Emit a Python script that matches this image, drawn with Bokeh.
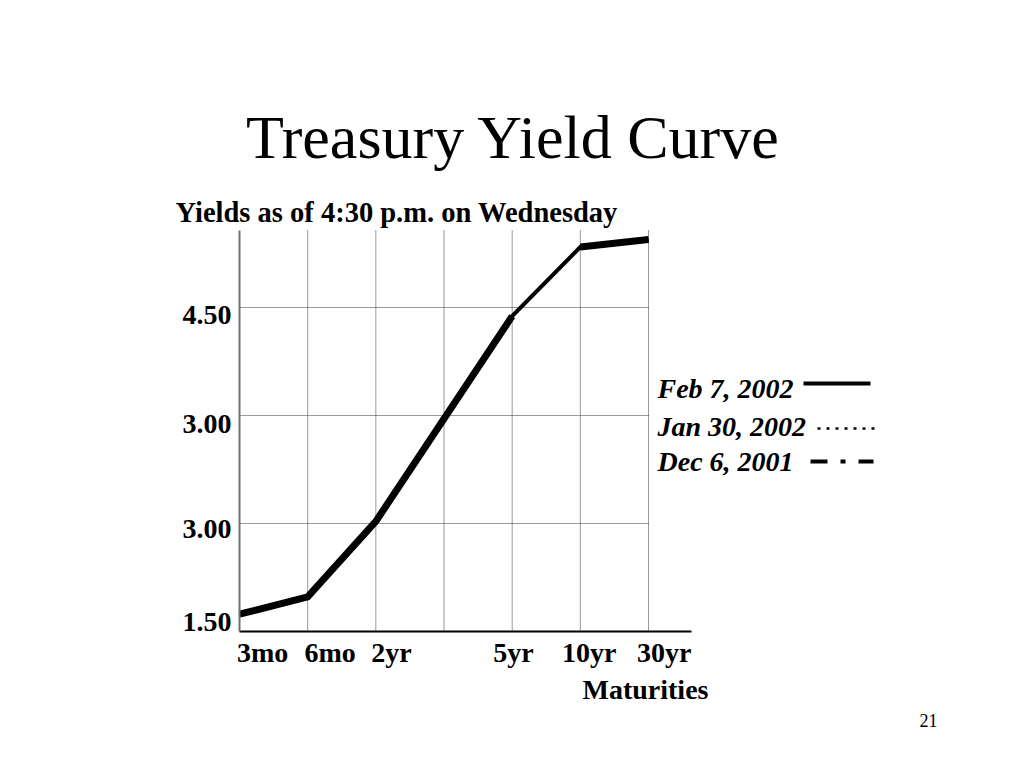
from bokeh.plotting import figure
from bokeh.models import Range1d, FixedTicker, Label, Arrow
from bokeh.embed import file_html
from bokeh.resources import INLINE

# ---- data ----
maturity_labels = ["3mo", "6mo", "2yr", "5yr", "10yr", "30yr"]
maturity_x = [0, 1, 2, 4, 5, 6]           # slot 3 has no label on the slide
grid_x = [1, 2, 3, 4, 5, 6]
yield_feb7 = [1.66, 1.82, 2.52, 4.42, 5.06, 5.13]
label_x = [0.34, 1.33, 2.23, 4.02, 5.13, 6.23]   # where the slide's tick texts sit
y_tick_labels = ["1.50", "3.00", "3.00", "4.50"]
y_label_pos = [1.59, 2.45, 3.42, 4.43]
y_grid = [2.5, 3.5, 4.5]
legend_names = ["Feb 7, 2002", "Jan 30, 2002", "Dec  6, 2001"]

SERIF = "Liberation Serif"
W, H = 1016, 760
# chart area on the page: x 239..691, y 230..631
X0_PX, XSTEP = 239, 68.17      # pixel of x=0, pixels per slot
Y0_PX, YSTEP = 631, 108.0      # pixel of y=1.5, pixels per unit
Y_BASE = 1.5
X_END = (691 - X0_PX) / XSTEP
Y_TOP = Y_BASE + (Y0_PX - 230) / YSTEP

p = figure(width=W, height=H,
           min_border_left=0, min_border_right=0, min_border_top=0, min_border_bottom=0,
           x_range=Range1d(-X0_PX / XSTEP, (W - X0_PX) / XSTEP),
           y_range=Range1d(Y_BASE - (H - Y0_PX) / YSTEP, Y_BASE + Y0_PX / YSTEP),
           output_backend="svg", toolbar_location=None)
p.outline_line_color = None
p.background_fill_color = "white"
p.border_fill_color = "white"
p.xgrid.visible = False
p.ygrid.visible = False

GRID_COL = "#333333"
# vertical grid lines
p.segment(x0=grid_x, x1=grid_x, y0=[Y_BASE] * len(grid_x), y1=[Y_TOP] * len(grid_x),
          line_color=GRID_COL, line_dash="1 1", line_width=1)
# horizontal grid lines (stop at the 30yr column)
p.segment(x0=[maturity_x[0]] * len(y_grid), x1=[maturity_x[-1]] * len(y_grid),
          y0=y_grid, y1=y_grid, line_color=GRID_COL, line_dash="1 1", line_width=1)

# axes, pinned at the chart's corner
xa = p.xaxis[0]
xa.fixed_location = Y_BASE
xa.bounds = (0, X_END)
xa.ticker = FixedTicker(ticks=label_x)
xa.major_label_overrides = {lx: lab for lx, lab in zip(label_x, maturity_labels)}
xa.major_tick_in = 0
xa.major_tick_out = 0
xa.minor_tick_line_color = None
xa.major_label_standoff = 5
xa.axis_line_color = "black"
xa.axis_line_width = 2
xa.major_label_text_font = SERIF
xa.major_label_text_font_size = "28px"
xa.major_label_text_font_style = "bold"
xa.major_label_text_color = "black"

ya = p.yaxis[0]
ya.fixed_location = 0
ya.bounds = (Y_BASE, Y_TOP)
ya.ticker = FixedTicker(ticks=y_label_pos)
ya.major_label_overrides = {yp: lab for yp, lab in zip(y_label_pos, y_tick_labels)}
ya.major_tick_in = 0
ya.major_tick_out = 0
ya.minor_tick_line_color = None
ya.major_label_standoff = 8
ya.axis_line_color = "#707070"
ya.axis_line_width = 2
ya.major_label_text_font = SERIF
ya.major_label_text_font_size = "28px"
ya.major_label_text_font_style = "bold"
ya.major_label_text_color = "black"

# Feb 7, 2002 curve
p.line(maturity_x, yield_feb7, line_color="black", line_width=4, line_join="miter")
p.line(maturity_x[:4], yield_feb7[:4], line_color="black", line_width=7, line_join="miter")
p.line(maturity_x[4:], yield_feb7[4:], line_color="black", line_width=7, line_join="miter")

# texts (screen units from the page's bottom-left, y up; y given as page centre line)
def lab(text, x, y_page, size, style="bold", align="left"):
    p.add_layout(Label(x=x, y=H - y_page, x_units="screen", y_units="screen", text=text,
                       text_font=SERIF, text_font_size=size, text_font_style=style,
                       text_color="black", text_align=align, text_baseline="middle"))

lab("Treasury Yield Curve", 513, 136, "62px", style="normal", align="center")
lab("Yields as of 4:30 p.m. on Wednesday", 175, 212, "28.5px")
lab("Maturities", 582, 689, "28px")
lab("21", 928, 720, "18px", style="normal", align="center")

# legend (texts on the left, line samples on the right)
for name, yp in zip(legend_names, [388, 426, 461]):
    lab(name, 657, yp, "28px", style="bold italic")

def sample(x0, x1, y_page, width, dash):
    p.add_layout(Arrow(x_start=x0, y_start=H - y_page, x_end=x1, y_end=H - y_page,
                       start_units="screen", end_units="screen", end=None,
                       line_color="black", line_width=width, line_dash=dash))

sample(803, 870, 383, 4, "solid")
sample(817, 874, 428, 2.5, "3 6")
sample(810, 873, 461, 4, "17 13 5 13")

open("out.html", "w").write(file_html(p, INLINE))
